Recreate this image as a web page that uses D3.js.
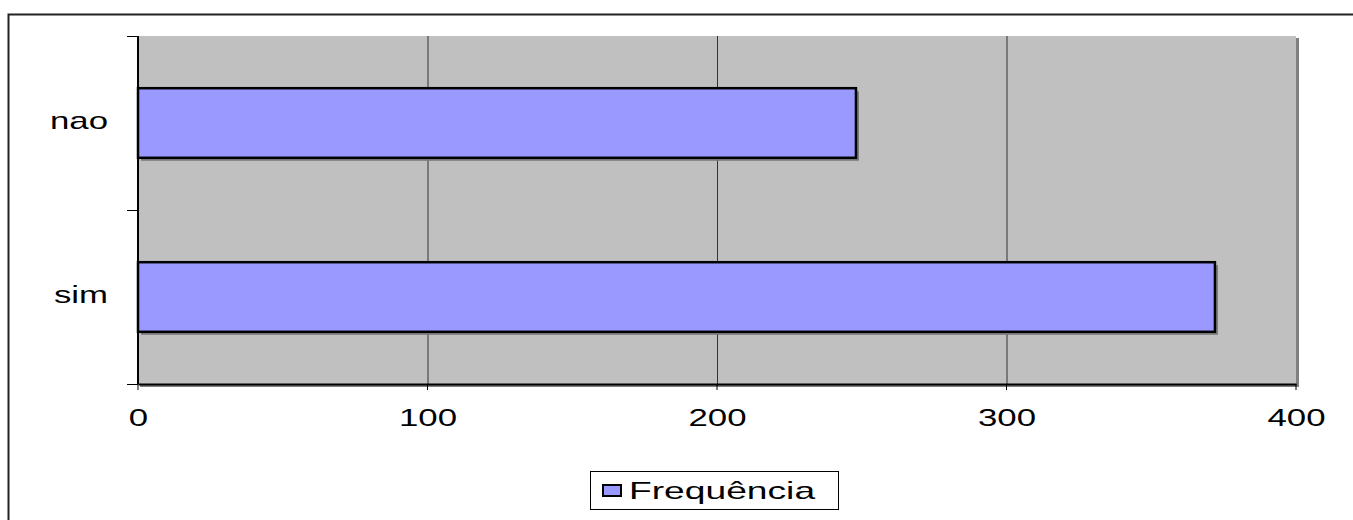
<!DOCTYPE html>
<html>
<head>
<meta charset="utf-8">
<script src="https://cdn.jsdelivr.net/npm/d3@7"></script>
<style>
  html, body { margin: 0; padding: 0; background: #fff; }
  svg { display: block; font-family: "Liberation Sans", Arial, sans-serif; }
</style>
</head>
<body>
<svg id="chart" width="1353" height="520"></svg>
<script>
// Response categories (top to bottom) and their counts
const categories = ["nao", "sim"];
const frequencies = [248, 372];
const xTicks = [0, 100, 200, 300, 400];
const seriesName = "Frequência";

const svg = d3.select("#chart");
const W = 1353, H = 520;
const plot = { left: 138, top: 36, right: 1296, bottom: 384 };
// text in this chart is drawn horizontally widened
const FONT = 24, STRETCH = 1.45;

// Outer chart frame (runs past the right and bottom edges)
svg.append("rect")
  .attr("x", 8.5).attr("y", 14.5)
  .attr("width", W + 20).attr("height", H + 20)
  .attr("fill", "#fff").attr("stroke", "#222").attr("stroke-width", 2);

const x = d3.scaleLinear().domain([0, 400]).range([plot.left, plot.right]);
const y = d3.scaleBand().domain(categories).range([plot.top, plot.bottom])
  .paddingInner(0.6).paddingOuter(0.3);

// Plot area shadow and fill
svg.append("rect")
  .attr("x", plot.left + 2).attr("y", plot.top + 2)
  .attr("width", plot.right - plot.left + 1).attr("height", plot.bottom - plot.top + 1)
  .attr("fill", "#808080");
svg.append("rect")
  .attr("x", plot.left).attr("y", plot.top)
  .attr("width", plot.right - plot.left).attr("height", plot.bottom - plot.top)
  .attr("fill", "#c0c0c0");

// Vertical gridlines
svg.append("g")
  .selectAll("line")
  .data(xTicks.slice(1, -1))
  .join("line")
  .attr("x1", d => x(d) + 0.5).attr("x2", d => x(d) + 0.5)
  .attr("y1", plot.top).attr("y2", plot.bottom)
  .attr("stroke", "#333").attr("stroke-width", 1);

// Bars with a soft drop shadow
const bars = svg.append("g");
bars.selectAll("rect.shadow")
  .data(frequencies)
  .join("rect")
  .attr("class", "shadow")
  .attr("x", x(0) + 3)
  .attr("y", (d, i) => y(categories[i]) + 3)
  .attr("width", d => x(d) - x(0))
  .attr("height", y.bandwidth())
  .attr("fill", "#7a7a7a");
bars.selectAll("rect.bar")
  .data(frequencies)
  .join("rect")
  .attr("class", "bar")
  .attr("x", x(0))
  .attr("y", (d, i) => y(categories[i]))
  .attr("width", d => x(d) - x(0))
  .attr("height", y.bandwidth())
  .attr("fill", "#9999ff")
  .attr("stroke", "#000").attr("stroke-width", 2.5);

// X axis
const xAxis = svg.append("g")
  .attr("transform", `translate(0,${plot.bottom})`)
  .call(d3.axisBottom(x).tickValues(xTicks).tickSize(0).tickPadding(0));
xAxis.select(".domain").attr("stroke", "#000").attr("stroke-width", 2);
xAxis.selectAll(".tick line").remove();
xAxis.selectAll(".tick text")
  .attr("font-size", FONT).attr("fill", "#000")
  .attr("font-family", "Liberation Sans, Arial, sans-serif")
  .attr("y", 0).attr("dy", 0)
  .attr("transform", `translate(0,42) scale(${STRETCH},1)`);
// short tick marks hanging under the axis
svg.append("g").selectAll("line")
  .data(xTicks)
  .join("line")
  .attr("x1", d => x(d)).attr("x2", d => x(d))
  .attr("y1", plot.bottom).attr("y2", plot.bottom + 6)
  .attr("stroke", "#000").attr("stroke-width", 1);

// Y axis: line with ticks between categories, labels centred on bands
svg.append("line")
  .attr("x1", plot.left).attr("x2", plot.left)
  .attr("y1", plot.top).attr("y2", plot.bottom)
  .attr("stroke", "#000").attr("stroke-width", 2);
const yBounds = [plot.top, (plot.top + plot.bottom) / 2, plot.bottom];
svg.append("g").selectAll("line")
  .data(yBounds)
  .join("line")
  .attr("x1", plot.left - 11).attr("x2", plot.left)
  .attr("y1", d => Math.round(d) + 0.5).attr("y2", d => Math.round(d) + 0.5)
  .attr("stroke", "#000").attr("stroke-width", 1);
svg.append("g").selectAll("text")
  .data(categories)
  .join("text")
  .attr("transform", d => `translate(108,${y(d) + y.bandwidth() / 2 + 6}) scale(${STRETCH},1)`)
  .attr("text-anchor", "end")
  .attr("font-size", FONT)
  .text(d => d);

// Legend
const legend = svg.append("g");
legend.append("rect")
  .attr("x", 590.5).attr("y", 471.5).attr("width", 248).attr("height", 38)
  .attr("fill", "#fff").attr("stroke", "#000").attr("stroke-width", 1);
legend.append("rect")
  .attr("x", 603).attr("y", 485).attr("width", 18).attr("height", 11)
  .attr("fill", "#9999ff").attr("stroke", "#000").attr("stroke-width", 2);
legend.append("text")
  .attr("transform", `translate(629,499) scale(${STRETCH + 0.1},1)`)
  .attr("font-size", FONT)
  .text(seriesName);
</script>
</body>
</html>
